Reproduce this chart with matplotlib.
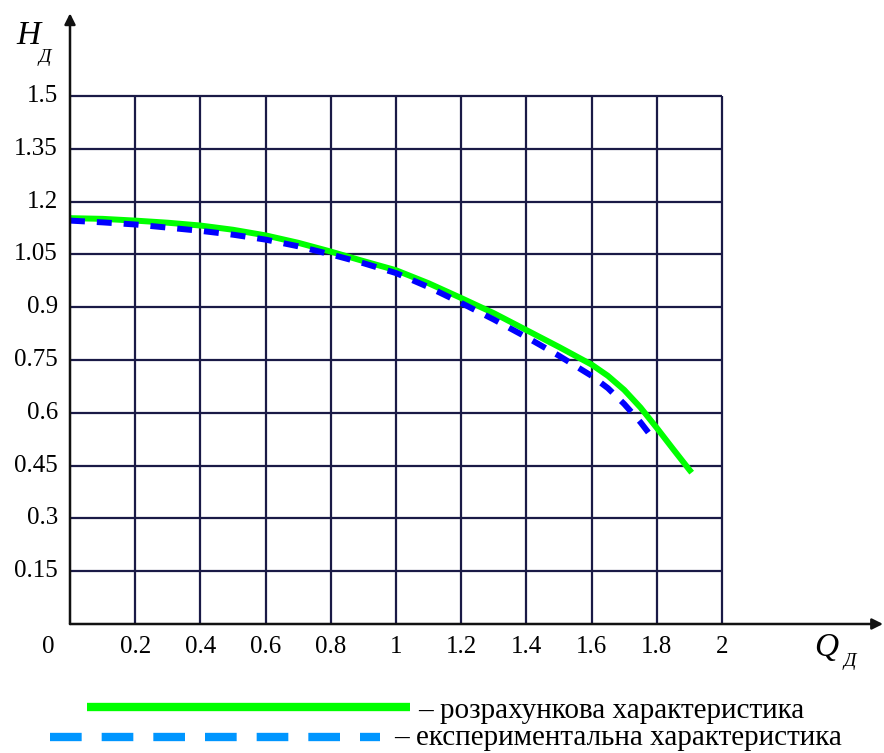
import numpy as np
import matplotlib.pyplot as plt
from matplotlib.lines import Line2D

plt.rcParams['font.family'] = ['Liberation Serif', 'DejaVu Serif']

# розрахункова характеристика
q_calc = [0, 0.1, 0.2, 0.3, 0.4, 0.5, 0.6, 0.7, 0.8, 0.9, 1.0, 1.1, 1.2, 1.3, 1.4, 1.5,
          1.6, 1.65, 1.7, 1.75, 1.8, 1.85, 1.9, 1.907]
h_calc = [1.153, 1.151, 1.146, 1.140, 1.132, 1.120, 1.104, 1.083, 1.058, 1.031, 1.005, 0.968,
          0.926, 0.883, 0.835, 0.787, 0.737, 0.705, 0.665, 0.615, 0.557, 0.497, 0.438, 0.430]

# експериментальна характеристика
q_exp = [0, 0.1, 0.2, 0.3, 0.4, 0.5, 0.6, 0.7, 0.8, 0.9, 1.0, 1.1, 1.2, 1.3, 1.4, 1.5,
         1.6, 1.65, 1.7, 1.75, 1.79]
h_exp = [1.146, 1.141, 1.135, 1.126, 1.117, 1.106, 1.092, 1.073, 1.050, 1.025, 0.997, 0.957,
         0.912, 0.865, 0.815, 0.762, 0.705, 0.670, 0.625, 0.573, 0.525]

x_ticks = [0.2, 0.4, 0.6, 0.8, 1.0, 1.2, 1.4, 1.6, 1.8, 2.0]
x_labels = ['0.2', '0.4', '0.6', '0.8', '1', '1.2', '1.4', '1.6', '1.8', '2']
y_ticks = [0.15, 0.3, 0.45, 0.6, 0.75, 0.9, 1.05, 1.2, 1.35, 1.5]
y_labels = ['0.15', '0.3', '0.45', '0.6', '0.75', '0.9', '1.05', '1.2', '1.35', '1.5']

W, H = 884, 753
fig = plt.figure(figsize=(W / 100, H / 100), dpi=100)
# початок координат у пікселі (70, 624), 326 px на одиницю Q, 352 px на одиницю H
ax = fig.add_axes([70 / W, (H - 624) / H, (W - 70) / W, 614 / H])
ax.set_xlim(0, 814 / 326)
ax.set_ylim(0, 614 / 352)
ax.axis('off')

grid_c = '#1a1a46'
ax.vlines(x_ticks, 0, 1.5, color=grid_c, lw=1.6)
ax.hlines(y_ticks, 0, 2.0, color=grid_c, lw=1.6)

# осі зі стрілками
arr = dict(arrowstyle='-|>', color='#111111', lw=1.8, mutation_scale=16, shrinkA=0, shrinkB=0)
ax.annotate('', xy=(0, 1.735), xytext=(0, 0), arrowprops=arr, annotation_clip=False)
ax.annotate('', xy=(2.494, 0), xytext=(0, 0), arrowprops=arr, annotation_clip=False)

ax.plot(q_calc, h_calc, color='#00ff00', lw=4.3, solid_capstyle='butt',
        solid_joinstyle='round', clip_on=False)
ax.plot(q_exp, h_exp, color='#0000ff', lw=4.3, dashes=(2.5, 2.0), dash_capstyle='butt',
        dash_joinstyle='round', clip_on=False)

fs = 18
for t, lab in zip(x_ticks, x_labels):
    ax.text(t, -0.065, lab, ha='center', va='center', fontsize=fs)
ax.text(-0.067, -0.065, '0', ha='center', va='center', fontsize=fs)
for t, lab in zip(y_ticks, y_labels):
    ax.text(-0.037, t, lab, ha='right', va='center', fontsize=fs)

# підписи осей
fig.text(28 / W, 1 - 36 / H, 'H', style='italic', fontsize=24, ha='center', va='center')
fig.text(45 / W, 1 - 57 / H, 'Д', style='italic', fontsize=14, ha='center', va='center')
fig.text(826 / W, 1 - 648 / H, 'Q', style='italic', fontsize=24, ha='center', va='center')
fig.text(850 / W, 1 - 662 / H, 'Д', style='italic', fontsize=14, ha='center', va='center')

# легенда
fig.add_artist(Line2D([87 / W, 410 / W], [1 - 707 / H] * 2, color='#00ff00', lw=6, solid_capstyle='butt'))
fig.add_artist(Line2D([50 / W, 380 / W], [1 - 737 / H] * 2, color='#0096ff', lw=6,
                      dashes=(3.8, 2.4), dash_capstyle='butt'))
fig.text(418 / W, 1 - 718 / H, '– розрахункова характеристика', fontsize=21, va='baseline')
fig.text(394 / W, 1 - 745 / H, '– експериментальна характеристика', fontsize=21, va='baseline')

fig.savefig('out.png', dpi=100)
